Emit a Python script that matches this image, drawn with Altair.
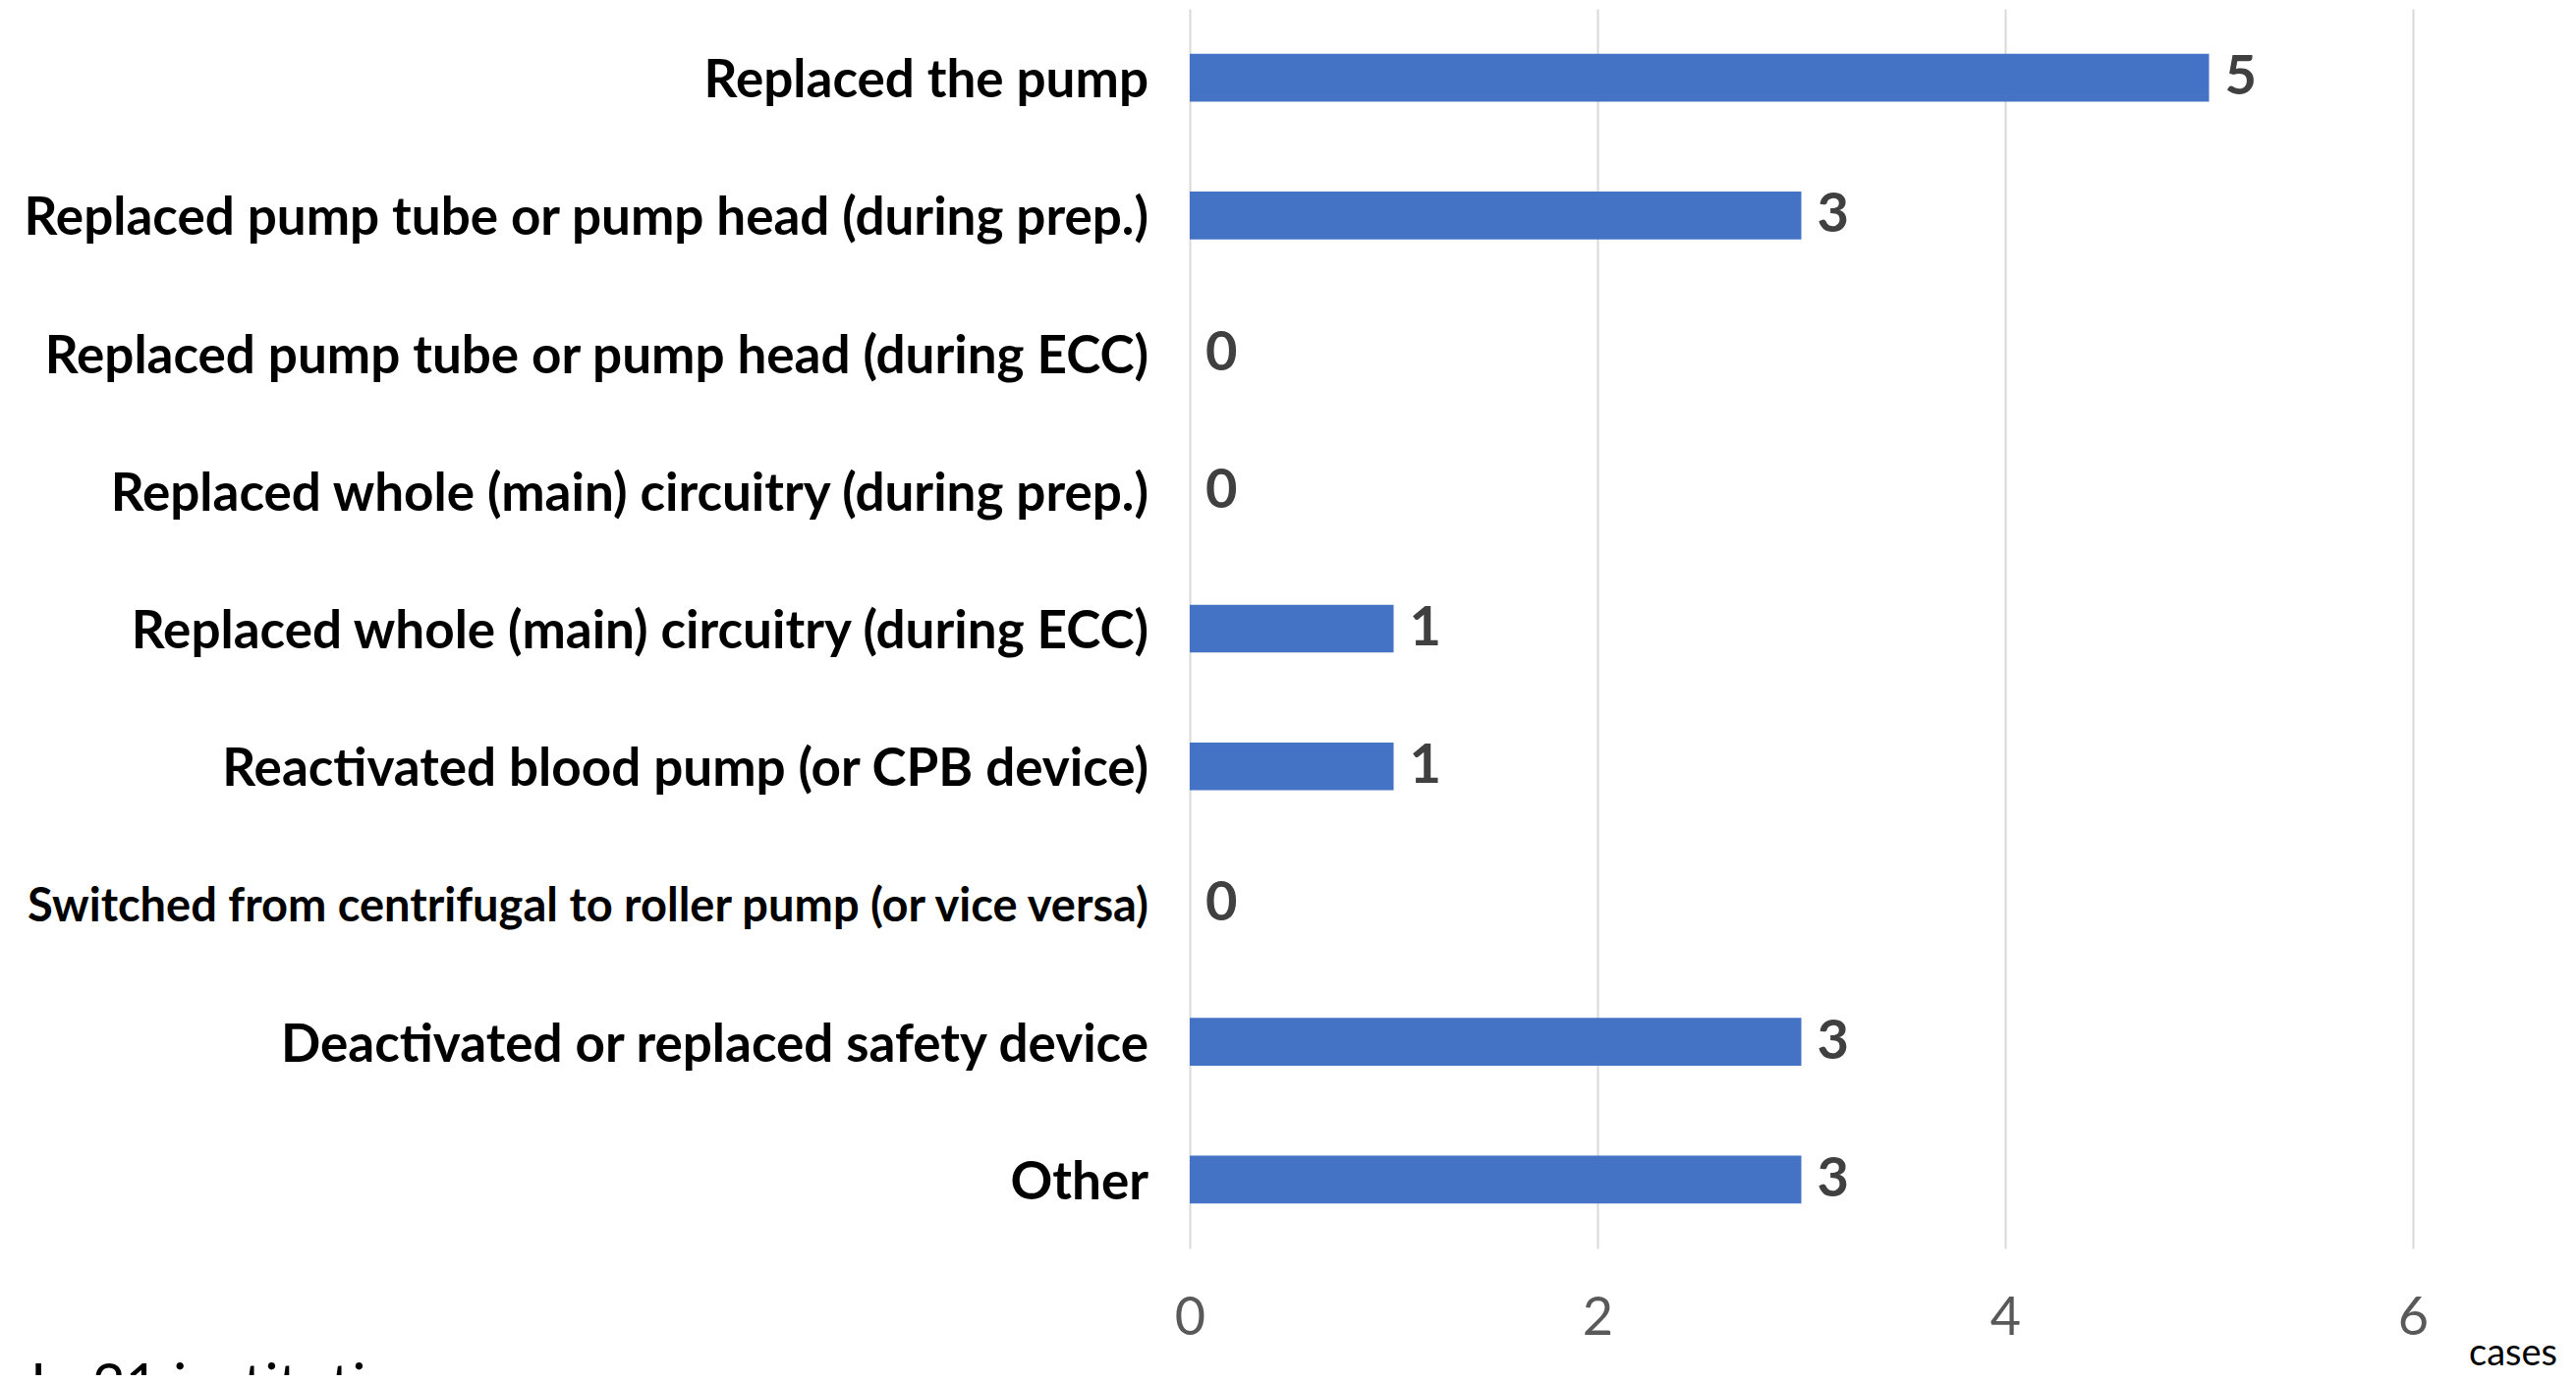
import altair as alt
import pandas as pd

categories = [
    "Replaced the pump",
    "Replaced pump tube or pump head (during prep.)",
    "Replaced pump tube or pump head (during ECC)",
    "Replaced whole (main) circuitry (during prep.)",
    "Replaced whole (main) circuitry (during ECC)",
    "Reactivated blood pump (or CPB device)",
    "Switched from centrifugal to roller pump (or vice versa)",
    "Deactivated or replaced safety device",
    "Other",
]
cases = [5, 3, 0, 0, 1, 1, 0, 3, 3]
x_ticks = [0, 2, 4, 6]
unit_label = "cases"
note = "In 21 institutions"

df = pd.DataFrame({"cat": categories, "cases": cases})

W, H = 1245, 1262
LABEL_FONT = "Lato"

yscale = alt.Scale(domain=categories, paddingInner=0.653, paddingOuter=0.3265)
y_enc = alt.Y("cat:N", sort=categories, scale=yscale, axis=None)

bars = alt.Chart(df).mark_bar(color="#4472C4").encode(
    x=alt.X(
        "cases:Q",
        scale=alt.Scale(domain=[0, 6], nice=False),
        axis=alt.Axis(
            values=x_ticks,
            format="d",
            title=None,
            grid=True,
            gridColor="#D9D9D9",
            gridWidth=2,
            domain=False,
            ticks=False,
            tickSize=0,
            labelFlush=False,
            labelAlign="center",
            labelFont=LABEL_FONT,
            labelFontSize=54,
            labelColor="#595959",
            labelPadding=44,
        ),
    ),
    y=y_enc,
)

values = alt.Chart(df).mark_text(
    align="left", baseline="middle", dx=16, font=LABEL_FONT, fontSize=56,
    fontWeight="bold", color="#404040",
).encode(x="cases:Q", y=y_enc, text="cases:Q")

cat_labels = alt.Chart(df).mark_text(
    align="right", baseline="middle", dy=4, font=LABEL_FONT, fontWeight="bold", color="#000000",
).encode(
    x=alt.value(-42),
    y=y_enc,
    text="cat:N",
    size=alt.condition(
        "datum.cat == 'Switched from centrifugal to roller pump (or vice versa)'",
        alt.value(47),
        alt.value(53),
    ),
)

unit = alt.Chart(pd.DataFrame({"t": [unit_label]})).mark_text(
    align="center", baseline="middle", font=LABEL_FONT, fontSize=38, color="#000000"
).encode(text="t:N", x=alt.value(1347), y=alt.value(1370))

note_txt = alt.Chart(pd.DataFrame({"t": [note]})).mark_text(
    align="left", baseline="top", font=LABEL_FONT, fontSize=58, color="#000000"
).encode(text="t:N", x=alt.value(-1180), y=alt.value(1375))

chart = alt.layer(bars, values, cat_labels, unit, note_txt).properties(
    width=W,
    height=H,
    autosize=alt.AutoSizeParams(type="none"),
    padding={"left": 1203, "top": 1, "right": 158, "bottom": 129},
).configure_view(stroke=None)

chart.save("out.html", embed_options={"renderer": "svg", "actions": False})
